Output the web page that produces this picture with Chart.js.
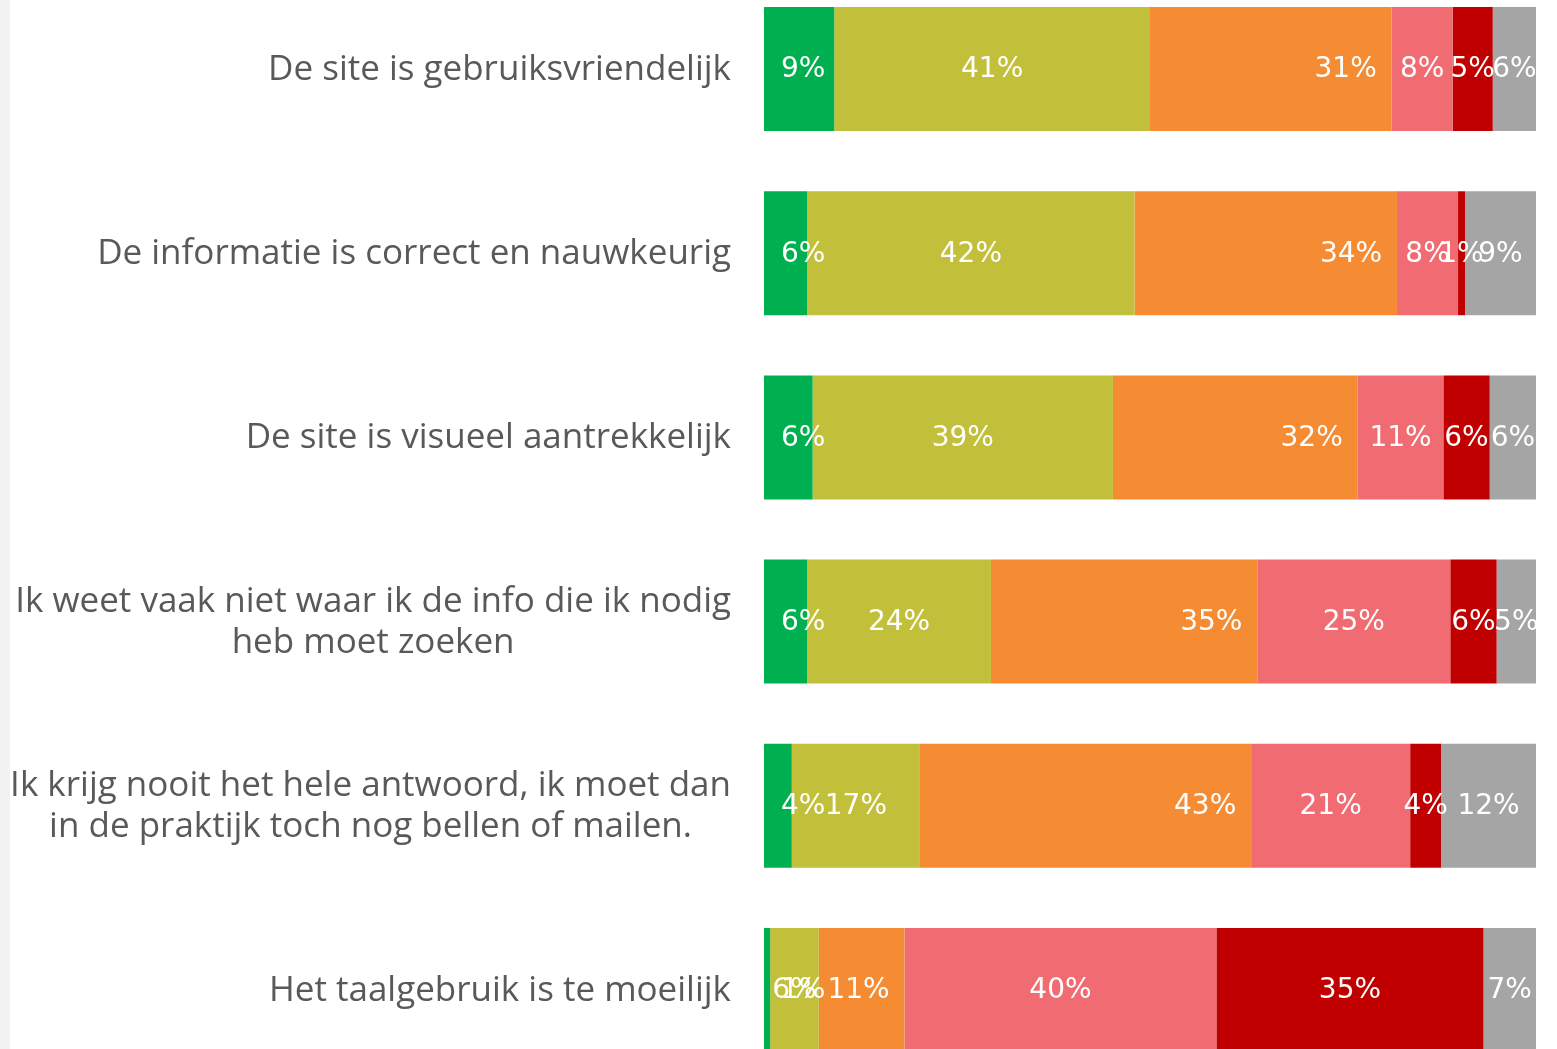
<!DOCTYPE html>
<html lang="nl">
<head>
    <meta charset="UTF-8">
    <title>Stellingen website</title>
    <style>
      html, body { margin: 0; padding: 0; background: #fff; overflow: hidden; }
      body { width: 1557px; height: 1049px; position: relative; }
      .strip { position: absolute; left: 0; top: 0; width: 10px; height: 1049px; background: #f2f2f2; }
      #wrap { position: absolute; left: 0; top: -23px; width: 1557px; height: 1105px; }
    </style>
</head>
<body>
    <div class="strip"></div>
    <div id="wrap">
        <canvas id="myChart"></canvas>
    </div>

    <script src="https://cdn.jsdelivr.net/npm/chart.js"></script>

    <script>
      const categories = [
        ['De site is gebruiksvriendelijk'],
        ['De informatie is correct en nauwkeurig'],
        ['De site is visueel aantrekkelijk'],
        ['Ik weet vaak niet waar ik de info die ik nodig', 'heb moet zoeken'],
        ['Ik krijg nooit het hele antwoord, ik moet dan', 'in de praktijk toch nog bellen of mailen.'],
        ['Het taalgebruik is te moeilijk']
      ];

      // percentages per answer option
      const helemaalEens   = [9.1, 5.6, 6.3, 5.6, 3.6, 0.8];
      const eens           = [40.9, 42.4, 38.9, 23.8, 16.6, 6.3];
      const neutraal       = [31.3, 34.0, 31.7, 34.5, 42.9, 11.1];
      const oneens         = [7.9, 7.9, 11.1, 25.0, 20.6, 40.4];
      const helemaalOneens = [5.2, 0.9, 6.0, 6.0, 4.0, 34.6];
      const weetNiet       = [5.6, 9.2, 6.0, 5.1, 12.3, 6.8];

      const colors = ['#00b050', '#c2bf3a', '#f58c34', '#f16c72', '#c00000', '#a5a5a5'];
      const series = [helemaalEens, eens, neutraal, oneens, helemaalOneens, weetNiet];
      const names = ['Helemaal eens', 'Eens', 'Neutraal', 'Oneens', 'Helemaal oneens', 'Weet niet'];

      const labelFont = '35px "Open Sans"';
      const valueFont = '28px "DejaVu Sans"';

      const drawLabels = {
        id: 'drawLabels',
        afterDatasetsDraw(chart) {
          const ctx = chart.ctx;
          const yScale = chart.scales.y;
          ctx.save();
          // category labels, block right aligned, lines centered
          ctx.font = labelFont;
          ctx.fillStyle = '#595959';
          ctx.textAlign = 'center';
          ctx.textBaseline = 'middle';
          categories.forEach((lines, i) => {
            const yc = yScale.getPixelForTick(i);
            const widest = Math.max(...lines.map(l => ctx.measureText(l).width));
            const cx = chart.chartArea.left - 33 - widest / 2;
            const lh = 41;
            lines.forEach((l, j) => {
              ctx.fillText(l, cx, yc + 1 + (j - (lines.length - 1) / 2) * lh);
            });
          });
          // value labels
          ctx.font = valueFont;
          ctx.fillStyle = '#ffffff';
          chart.data.datasets.forEach((ds, di) => {
            chart.getDatasetMeta(di).data.forEach((bar, i) => {
              const txt = Math.round(ds.data[i]) + '%';
              let x = (bar.x + bar.base) / 2;
              ctx.textAlign = 'center';
              if (di === 0) {
                ctx.textAlign = 'left';
                x = bar.base + 17;
              } else if (di === 2) {
                x = bar.x - 46;
              }
              ctx.fillText(txt, x, bar.y + 1);
            });
          });
          ctx.restore();
        }
      };

      const ctx = document.getElementById('myChart');

      new Chart(ctx, {
        type: 'bar',
        data: {
          labels: categories,
          datasets: series.map((d, i) => ({
            label: names[i],
            data: d,
            backgroundColor: colors[i],
            borderWidth: 0,
            categoryPercentage: 1,
            barPercentage: 0.673
          }))
        },
        options: {
          indexAxis: 'y',
          responsive: true,
          maintainAspectRatio: false,
          animation: false,
          layout: { padding: { left: 0, right: 21, top: 0, bottom: 0 } },
          plugins: {
            legend: { display: false },
            tooltip: { enabled: false }
          },
          scales: {
            x: {
              stacked: true,
              min: 0,
              max: 100,
              display: false
            },
            y: {
              stacked: true,
              grid: { display: false },
              border: { display: false },
              ticks: { display: false },
              afterFit(scale) { scale.width = 764; }
            }
          }
        },
        plugins: [drawLabels]
      });
    </script>
</body>
</html>
